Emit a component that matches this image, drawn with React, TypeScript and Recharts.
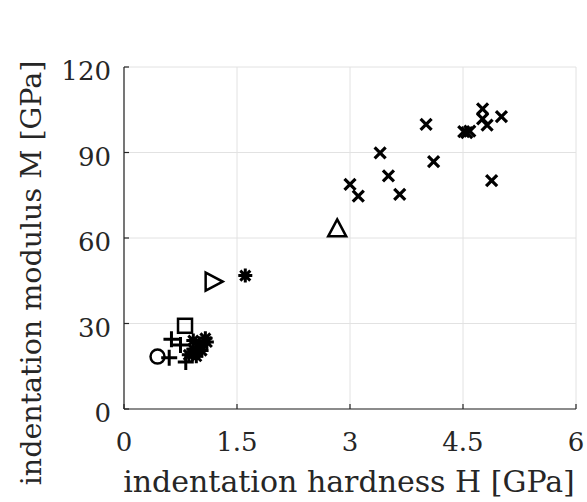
import React from 'react';
import { ScatterChart, Scatter, XAxis, YAxis, CartesianGrid } from 'recharts';

// values (H in GPa, M in GPa)
const crossPoints = [
  { h: 3.0, m: 78.8 },
  { h: 3.11, m: 74.7 },
  { h: 3.4, m: 89.9 },
  { h: 3.51, m: 81.8 },
  { h: 3.66, m: 75.3 },
  { h: 4.01, m: 99.9 },
  { h: 4.11, m: 86.8 },
  { h: 4.51, m: 97.3 },
  { h: 4.55, m: 97.0 },
  { h: 4.59, m: 97.5 },
  { h: 4.76, m: 105.3 },
  { h: 4.76, m: 101.8 },
  { h: 4.82, m: 99.6 },
  { h: 5.01, m: 102.6 },
  { h: 4.88, m: 80.1 },
];
const triangleUpPoints = [{ h: 2.83, m: 63.4 }];
const triangleRightPoints = [{ h: 1.19, m: 44.7 }];
const asteriskPoints = [
  { h: 1.61, m: 46.8 },
  { h: 0.86, m: 19.0 },
  { h: 0.92, m: 21.0 },
  { h: 1.0, m: 23.0 },
  { h: 1.08, m: 24.8 },
  { h: 0.96, m: 18.5 },
  { h: 1.03, m: 20.5 },
  { h: 1.1, m: 23.5 },
  { h: 0.92, m: 24.0 },
];
const squarePoints = [{ h: 0.81, m: 29.2 }];
const circlePoints = [{ h: 0.445, m: 18.4 }];
const plusPoints = [
  { h: 0.63, m: 24.5 },
  { h: 0.75, m: 22.5 },
  { h: 0.6, m: 18.0 },
  { h: 0.82, m: 16.5 },
];

const xTicks = [0, 1.5, 3, 4.5, 6];
const yTicks = [0, 30, 60, 90, 120];

const ink = '#262626';
const serif = '"DejaVu Serif", serif';

const CrossShape = ({ cx, cy }: any) => (
  <path d={`M${cx - 5.5},${cy - 5.5}L${cx + 5.5},${cy + 5.5}M${cx - 5.5},${cy + 5.5}L${cx + 5.5},${cy - 5.5}`} stroke="#000" strokeWidth={3.2} fill="none" />
);
const PlusShape = ({ cx, cy }: any) => (
  <path d={`M${cx - 8},${cy}L${cx + 8},${cy}M${cx},${cy - 8}L${cx},${cy + 8}`} stroke="#000" strokeWidth={3} fill="none" />
);
const AsteriskShape = ({ cx, cy }: any) => (
  <path
    d={`M${cx - 7},${cy}L${cx + 7},${cy}M${cx},${cy - 7}L${cx},${cy + 7}M${cx - 5},${cy - 5}L${cx + 5},${cy + 5}M${cx - 5},${cy + 5}L${cx + 5},${cy - 5}`}
    stroke="#000"
    strokeWidth={3}
    fill="none"
  />
);
const SquareShape = ({ cx, cy }: any) => (
  <rect x={cx - 7} y={cy - 7} width={14} height={14} stroke="#000" strokeWidth={2.5} fill="none" />
);
const CircleShape = ({ cx, cy }: any) => (
  <circle cx={cx} cy={cy} r={7} stroke="#000" strokeWidth={2.5} fill="none" />
);
const TriangleUpShape = ({ cx, cy }: any) => (
  <path d={`M${cx},${cy - 9}L${cx + 9},${cy + 8}L${cx - 9},${cy + 8}Z`} stroke="#000" strokeWidth={2.5} fill="none" strokeLinejoin="miter" />
);
const TriangleRightShape = ({ cx, cy }: any) => (
  <path d={`M${cx + 9},${cy}L${cx - 8},${cy + 9}L${cx - 8},${cy - 9}Z`} stroke="#000" strokeWidth={2.5} fill="none" strokeLinejoin="miter" />
);

const XTick = ({ x, y, payload }: any) => (
  <g>
    <line x1={x} x2={x} y1={y} y2={y - 5} stroke={ink} strokeWidth={1.2} />
    <text x={x} y={y + 42} textAnchor="middle" fontFamily={serif} fontSize={26} fill={ink}>
      {payload.value}
    </text>
  </g>
);

const YTick = ({ x, y, payload }: any) => (
  <g>
    <line x1={x} x2={x + 5} y1={y} y2={y} stroke={ink} strokeWidth={1.2} />
    <text x={x - 13} y={y + 13} textAnchor="end" fontFamily={serif} fontSize={26} fill={ink}>
      {payload.value}
    </text>
  </g>
);

export default function App() {
  return (
    <div style={{ position: 'absolute', left: 0, top: 0, background: '#fff' }}>
      <ScatterChart width={587} height={502} margin={{ top: 67, right: 11, left: 64, bottom: 33 }}>
        <CartesianGrid stroke="#e2e2e2" strokeWidth={1} />
        <XAxis
          type="number"
          dataKey="h"
          domain={[0, 6]}
          ticks={xTicks}
          height={60}
          tickSize={0}
          tickMargin={0}
          tickLine={false}
          axisLine={{ stroke: ink, strokeWidth: 1.2 }}
          tick={<XTick />}
          interval={0}
          label={{
            content: () => (
              <text x={349} y={492} textAnchor="middle" fontFamily={serif} fontSize={30} fill={ink}>
                indentation hardness H [GPa]
              </text>
            ),
          }}
        />
        <YAxis
          type="number"
          dataKey="m"
          domain={[0, 120]}
          ticks={yTicks}
          width={60}
          tickSize={0}
          tickMargin={0}
          tickLine={false}
          axisLine={{ stroke: ink, strokeWidth: 1.2 }}
          tick={<YTick />}
          interval={0}
          label={{
            content: () => (
              <text
                x={31}
                y={273}
                transform="rotate(-90, 31, 273)"
                textAnchor="middle"
                dominantBaseline="central"
                fontFamily={serif}
                fontSize={28.5}
                fill={ink}
              >
                indentation modulus M [GPa]
              </text>
            ),
          }}
        />
        <Scatter data={crossPoints} shape={<CrossShape />} isAnimationActive={false} />
        <Scatter data={triangleUpPoints} shape={<TriangleUpShape />} isAnimationActive={false} />
        <Scatter data={triangleRightPoints} shape={<TriangleRightShape />} isAnimationActive={false} />
        <Scatter data={asteriskPoints} shape={<AsteriskShape />} isAnimationActive={false} />
        <Scatter data={squarePoints} shape={<SquareShape />} isAnimationActive={false} />
        <Scatter data={circlePoints} shape={<CircleShape />} isAnimationActive={false} />
        <Scatter data={plusPoints} shape={<PlusShape />} isAnimationActive={false} />
      </ScatterChart>
    </div>
  );
}
